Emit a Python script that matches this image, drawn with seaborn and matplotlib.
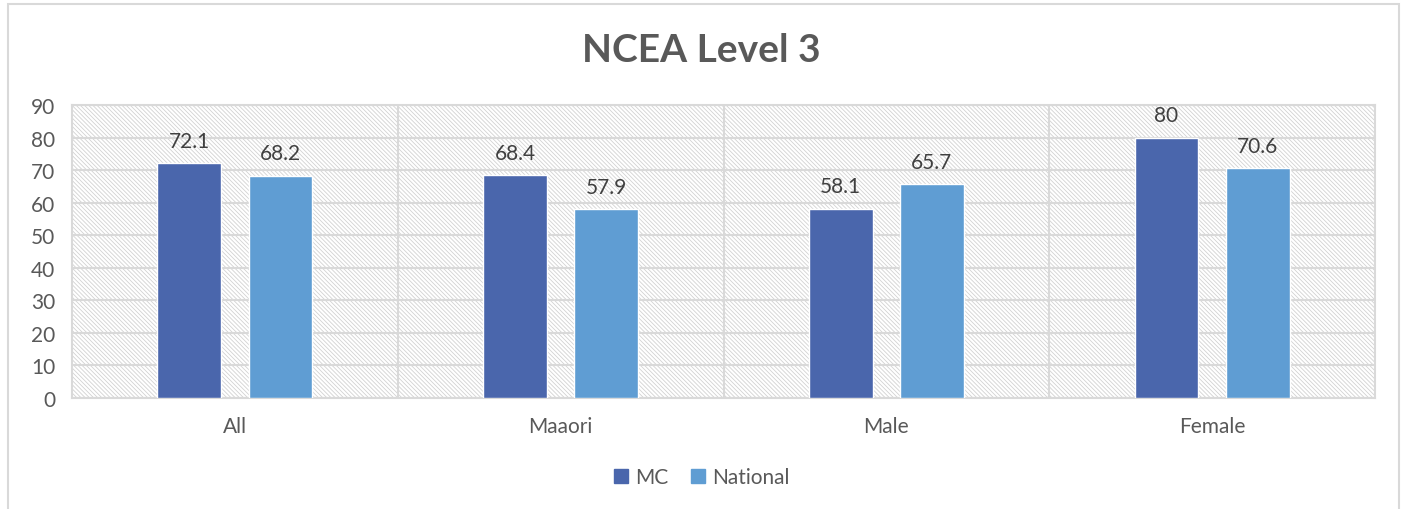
import pandas as pd
import matplotlib.pyplot as plt
import seaborn as sns
from matplotlib.patches import Rectangle

# 資料
groups = ["All", "Maaori", "Male", "Female"]
series = ["MC", "National"]
mc_values = [72.1, 68.4, 58.1, 80]
national_values = [68.2, 57.9, 65.7, 70.6]
y_ticks = [0, 10, 20, 30, 40, 50, 60, 70, 80, 90]

palette = {"MC": "#4A66AC", "National": "#5F9DD3"}
grid_color = "#D9D9D9"
text_color = "#595959"


def main():
    sns.set_style("white")
    plt.rcParams['font.family'] = ['Lato', 'DejaVu Sans']
    plt.rcParams['hatch.linewidth'] = 0.6

    df = pd.DataFrame({
        "group": groups * 2,
        "series": [series[0]] * len(groups) + [series[1]] * len(groups),
        "value": mc_values + national_values,
    })

    fig = plt.figure(figsize=(14.02, 5.10), dpi=100)
    # 外框
    fig.patches.append(Rectangle((0.006, -0.01), 0.992, 1.0, transform=fig.transFigure,
                                 fill=False, edgecolor=grid_color, linewidth=1.5))
    ax = fig.add_axes([0.0514, 0.2176, 0.9293, 0.5746])

    # 斜線背景
    ax.add_patch(Rectangle((0, 0), 1, 1, transform=ax.transAxes, facecolor="white",
                           edgecolor="#D2D2D2", hatch="\\" * 8, linewidth=0, zorder=0))

    sns.barplot(data=df, x="group", y="value", hue="series", order=groups,
                hue_order=series, palette=palette, width=0.56, gap=0.3,
                saturation=1, ax=ax, legend=True, zorder=3)

    for container in ax.containers:
        ax.bar_label(container, labels=[f"{v:g}" for v in container.datavalues],
                     padding=9, fontsize=15, color="#404040")

    ax.set_ylim(0, 90)
    ax.set_xlim(-0.5, len(groups) - 0.5)
    ax.set_yticks(y_ticks)
    ax.yaxis.grid(True, color=grid_color, linewidth=1.5, zorder=1)
    for xb in [0.5, 1.5, 2.5]:
        ax.axvline(xb, color=grid_color, linewidth=1.5, zorder=1)
    ax.set_axisbelow(True)
    for sp in ax.spines.values():
        sp.set_color(grid_color)
        sp.set_linewidth(1.5)
        sp.set_visible(True)

    ax.tick_params(axis="both", length=0, labelsize=15, colors=text_color)
    ax.tick_params(axis="x", pad=13)
    ax.tick_params(axis="y", pad=12)
    ax.set_xlabel("")
    ax.set_ylabel("")

    ax.legend_.remove()
    handles = [plt.Line2D([], [], marker="s", linestyle="", markersize=10,
                          color=palette[s]) for s in series]
    fig.legend(handles, series, loc="center", bbox_to_anchor=(0.5, 0.063), ncol=2,
               frameon=False, fontsize=15, handlelength=0.8, handletextpad=0.3,
               columnspacing=1.0, labelcolor=text_color)

    fig.text(0.5, 0.90, "NCEA Level 3", ha="center", va="center", fontsize=28,
             fontweight="bold", color=text_color)

    fig.savefig("out.png", dpi=100)
    plt.close(fig)


if __name__ == "__main__":
    main()
